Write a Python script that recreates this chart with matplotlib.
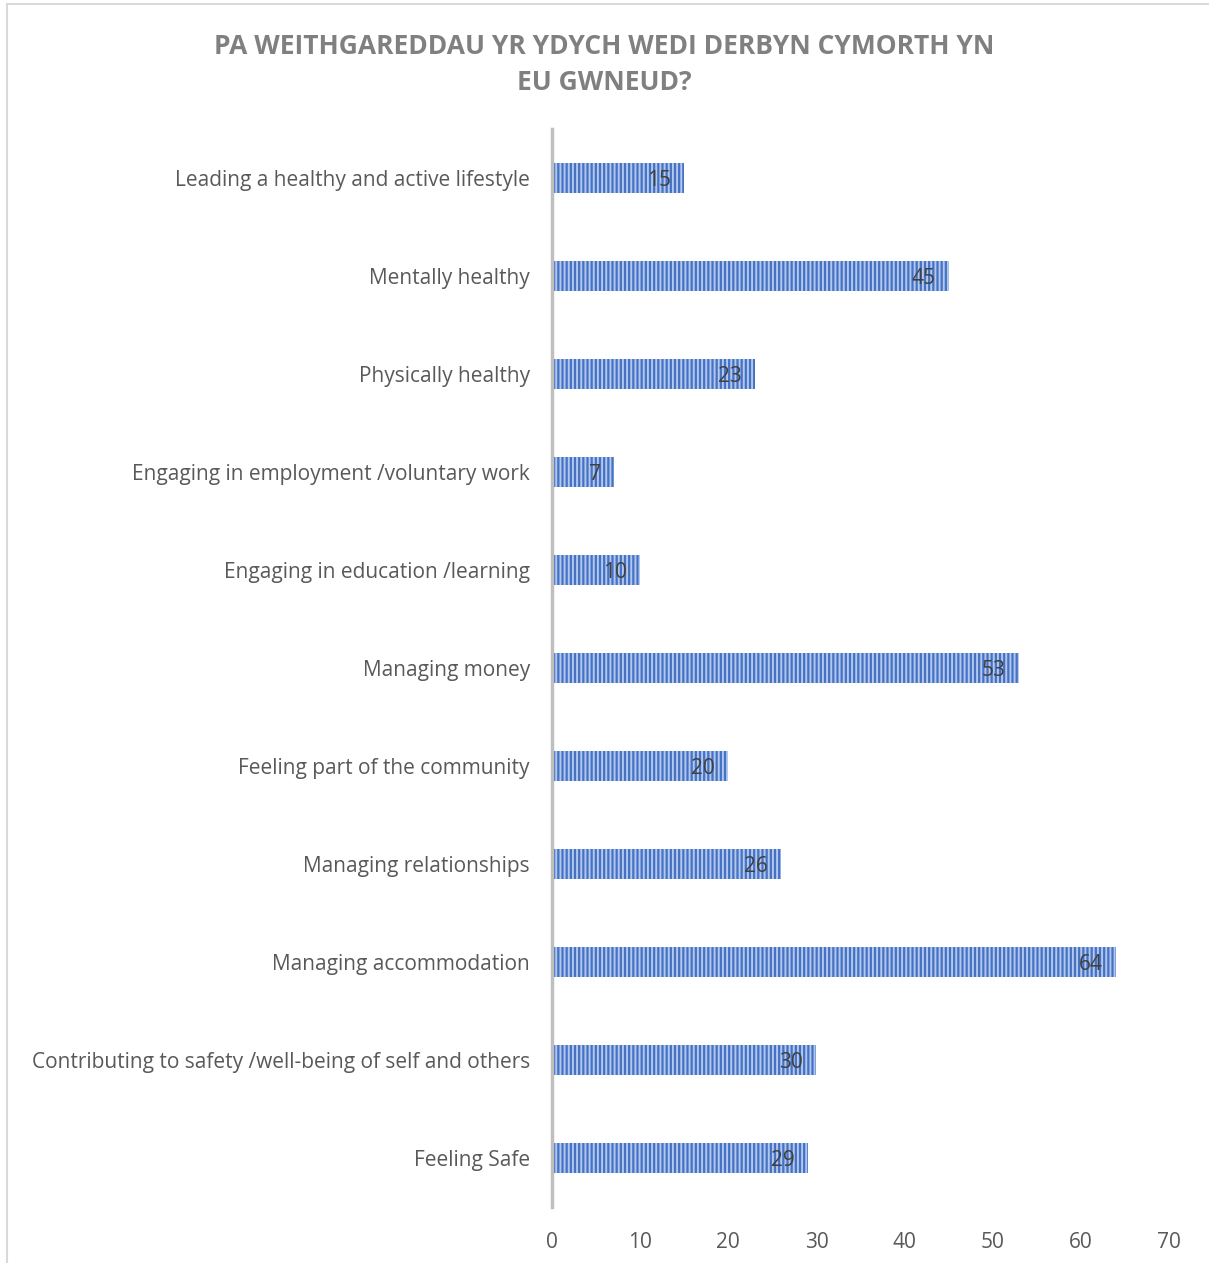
import matplotlib
matplotlib.use("Agg")
import matplotlib.pyplot as plt
from matplotlib.patches import Rectangle

categories = [
    "Leading a healthy and active lifestyle",
    "Mentally healthy",
    "Physically healthy",
    "Engaging in employment /voluntary work",
    "Engaging in education /learning",
    "Managing money",
    "Feeling part of the community",
    "Managing relationships",
    "Managing accommodation",
    "Contributing to safety /well-being of self and others",
    "Feeling Safe",
]
values = [15, 45, 23, 7, 10, 53, 20, 26, 64, 30, 29]
xticks = [0, 10, 20, 30, 40, 50, 60, 70]
title = "PA WEITHGAREDDAU YR YDYCH WEDI DERBYN CYMORTH YN\nEU GWNEUD?"

plt.rcParams['font.family'] = ['Open Sans', 'DejaVu Sans']
plt.rcParams['hatch.linewidth'] = 1.4
plt.rcParams['hatch.color'] = '#b4c8ee'

fig = plt.figure(figsize=(12.09, 12.63), dpi=100)
ax = fig.add_axes([0.4566, 0.0443, 0.5103, 0.8536])

ypos = list(range(len(categories)))
ax.barh(ypos, values, height=0.31, color='#4472C4', hatch='||||', edgecolor='#b4c8ee', linewidth=0)

# data labels just inside the bar end
for y, v in zip(ypos, values):
    ax.text(v - 1.5, y, str(v), ha='right', va='center_baseline', fontsize=15, color='#404040')

ax.set_yticks(ypos)
ax.set_yticklabels(categories)
ax.set_ylim(len(categories) - 0.5, -0.5)
ax.set_xlim(0, 70)
ax.set_xticks(xticks)
ax.tick_params(axis='both', length=0, labelsize=15, colors='#595959')
ax.tick_params(axis='y', pad=16)
ax.tick_params(axis='x', pad=18)
for s in ['top', 'right', 'bottom']:
    ax.spines[s].set_visible(False)
ax.spines['left'].set_color('#bfbfbf')
ax.spines['left'].set_linewidth(2.5)

fig.text(0.5, 0.949, title, ha='center', va='center', fontsize=19, fontweight='bold',
         color='#808080', linespacing=1.45)

fig.patches.append(Rectangle((0.006, -0.01), 1.0, 1.007, transform=fig.transFigure,
                             fill=False, edgecolor='#d9d9d9', linewidth=1.5))

fig.savefig("out.png", dpi=100)
